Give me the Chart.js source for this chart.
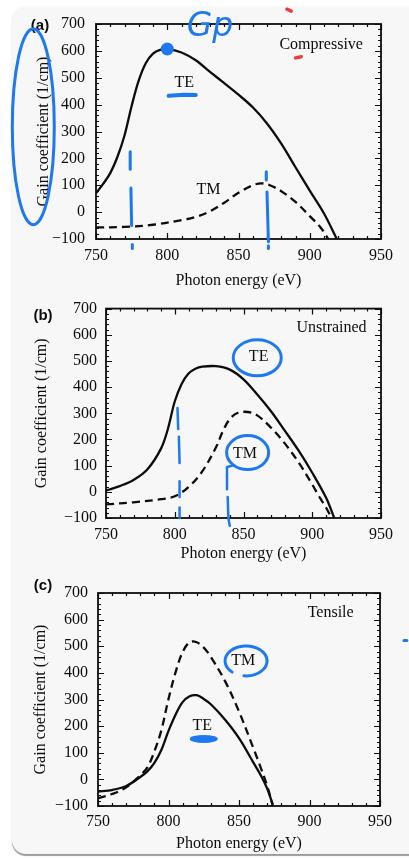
<!DOCTYPE html>
<html>
<head>
<meta charset="utf-8">
<script src="https://cdn.jsdelivr.net/npm/chart.js@4.4.1/dist/chart.umd.min.js"></script>
<style>
  html, body { margin: 0; padding: 0; background: #fff; }
  body { width: 409px; height: 859px; position: relative; overflow: hidden; }
  .card { position: absolute; left: 12px; top: 6px; width: 420px; height: 848px;
          background: #f7f7f7; border-radius: 14px; box-shadow: 0 2px 1px #9c9c9c; }
  .panel { position: absolute; left: 0; width: 409px; }
</style>
</head>
<body>
<div class="card"></div>
<div class="panel" style="top:0;height:290px"><canvas id="chartA" width="409" height="290"></canvas></div>
<div class="panel" style="top:290px;height:280px"><canvas id="chartB" width="409" height="280"></canvas></div>
<div class="panel" style="top:570px;height:289px"><canvas id="chartC" width="409" height="289"></canvas></div>
<script>
// axis ranges
const energyRange = [750, 950];
const gainRange = [-100, 700];

// (a) Compressive
const compTE_E = [750, 755, 760, 765, 770, 775, 780, 785, 790, 795, 800, 810, 820, 830, 840, 850, 860, 870, 880, 890, 900, 910, 919];
const compTE   = [70, 105, 145, 205, 285, 395, 490, 555, 590, 604, 607, 594, 565, 522, 480, 437, 390, 330, 255, 167, 80, -5, -100];
const compTM_E = [750, 770, 790, 810, 820, 830, 840, 850, 860, 866, 872, 880, 890, 900, 908, 913];
const compTM   = [-57, -55, -47, -30, -18, 3, 35, 72, 100, 107, 100, 78, 38, -15, -60, -100];

// (b) Unstrained
const unsTE_E = [750, 760, 770, 780, 790, 795, 800, 805, 810, 815, 820, 830, 840, 850, 860, 870, 880, 890, 900, 910, 916];
const unsTE   = [5, 22, 45, 85, 165, 240, 345, 412, 452, 470, 478, 480, 467, 430, 372, 308, 234, 158, 73, -22, -100];
const unsTM_E = [750, 770, 790, 800, 810, 820, 830, 835, 840, 846, 853, 860, 870, 880, 890, 900, 905, 910, 914];
const unsTM   = [-48, -40, -28, -17, 18, 78, 170, 232, 278, 302, 305, 292, 245, 185, 113, 28, -18, -60, -100];

// (c) Tensile
const tenTE_E = [750, 760, 770, 780, 785, 790, 795, 800, 805, 810, 815, 820, 825, 830, 840, 850, 860, 866, 870, 874];
const tenTE   = [-46, -40, -25, 9, 30, 62, 111, 182, 243, 290, 312, 316, 302, 282, 225, 155, 65, 10, -35, -95];
const tenTM_E = [750, 760, 770, 780, 785, 790, 795, 800, 805, 810, 815, 820, 825, 830, 840, 850, 860, 865, 870, 874];
const tenTM   = [-71, -55, -30, 15, 45, 105, 186, 302, 402, 478, 515, 515, 495, 460, 370, 255, 120, 50, -25, -100];

// printed text, in data coordinates
const labelsA = [{ text: 'TE', x: 812, y: 482 }, { text: 'TM', x: 829, y: 82 }, { text: 'Compressive', x: 908, y: 624 }];
const labelsB = [{ text: 'TE', x: 861, y: 515 }, { text: 'TM', x: 851, y: 146 }, { text: 'Unstrained', x: 914, y: 625 }];
const labelsC = [{ text: 'TM', x: 853, y: 446 }, { text: 'TE', x: 824, y: 200 }, { text: 'Tensile', x: 915, y: 626 }];

// hand-drawn pen marks on the scan (data coords, radii in px)
const penA = [
  { type: 'dot', x: 800, y: 607, r: 6.5 },
  { type: 'text', text: 'Gp', x: 830, y: 689, size: 33 },
  { type: 'line', pts: [[801, 433], [812, 437], [820, 436]], w: 4 },
  { type: 'ellipse', x: 706, y: 318, rx: 21, ry: 98, w: 3 },
  { type: 'line', pts: [[774, 225], [774, 160]], w: 3 },
  { type: 'line', pts: [[774.5, 90], [775, -50]], w: 3 },
  { type: 'line', pts: [[775.5, -120], [775.5, -135]], w: 3 },
  { type: 'line', pts: [[869.5, 150], [869.5, 120]], w: 3 },
  { type: 'line', pts: [[870, 75], [871, -110]], w: 3 },
  { type: 'line', pts: [[871, -125], [871, -135]], w: 3 },
  { type: 'line', pts: [[884, 755], [887, 748]], w: 3.5, color: '#ee3b3b' },
  { type: 'line', pts: [[890, 574], [894, 578]], w: 3.5, color: '#ee3b3b' }
];
const penB = [
  { type: 'ellipse', x: 860, y: 512, rx: 24, ry: 18, w: 3 },
  { type: 'ellipse', x: 853, y: 150, rx: 21, ry: 17, w: 3 },
  { type: 'line', pts: [[802, 320], [802.5, 240]], w: 2.5 },
  { type: 'line', pts: [[803, 210], [803.5, 110]], w: 2.5 },
  { type: 'line', pts: [[803.5, 40], [803.5, -20]], w: 2.5 },
  { type: 'line', pts: [[803.5, -60], [803.5, -100]], w: 2.5 },
  { type: 'line', pts: [[842, 100], [838, 95], [838, 10]], w: 2.5 },
  { type: 'line', pts: [[838.5, -20], [839, -100], [840, -130]], w: 2.5 }
];
const penC = [
  { type: 'arc', x: 855, y: 445, rx: 21, ry: 15, w: 3, a0: 2.3, a1: 2.3 + Math.PI * 1.8 },
  { type: 'blob', x: 825, y: 152, rx: 14, ry: 4 },
  { type: 'line', pts: [[967, 522], [969, 522]], w: 3 }
];

const serif = '"Liberation Serif", "DejaVu Serif", serif';
const ink = '#0d0d0d';
const pen = '#1e78f0';

function pts(xs, ys) { return xs.map((x, i) => ({ x: x, y: ys[i] })); }

/* frame with inward ticks, printed labels, panel letter, pen marks */
const framePlugin = {
  id: 'frame',
  afterDraw(chart, args, opts) {
    const { ctx, chartArea: a, scales: { x, y } } = chart;
    const X = v => x.getPixelForValue(v), Y = v => y.getPixelForValue(v);
    ctx.save();
    ctx.strokeStyle = ink;
    ctx.lineWidth = 1.2;
    ctx.beginPath();
    for (let e = energyRange[0]; e <= energyRange[1]; e += 10) {
      const px = Math.round(X(e)) + 0.5;
      const len = e % 50 === 0 ? 6 : 3;
      ctx.moveTo(px, a.bottom); ctx.lineTo(px, a.bottom - len);
      ctx.moveTo(px, a.top); ctx.lineTo(px, a.top + len);
    }
    for (let g = gainRange[0]; g <= gainRange[1]; g += 20) {
      const py = Math.round(Y(g)) + 0.5;
      const len = g % 100 === 0 ? 6 : 3;
      ctx.moveTo(a.left, py); ctx.lineTo(a.left + len, py);
      ctx.moveTo(a.right, py); ctx.lineTo(a.right - len, py);
    }
    ctx.stroke();
    ctx.lineWidth = 1.8;
    ctx.strokeRect(a.left, a.top, a.width, a.height);

    ctx.fillStyle = ink;
    ctx.font = '16px ' + serif;
    ctx.textAlign = 'center';
    ctx.textBaseline = 'middle';
    opts.labels.forEach(l => ctx.fillText(l.text, X(l.x), Y(l.y)));

    ctx.font = 'bold 15px "Liberation Sans", Arial, sans-serif';
    ctx.fillText(opts.letter, a.left - opts.letterDx, a.top + opts.letterDy);

    // pen marks
    ctx.lineCap = 'round';
    ctx.lineJoin = 'round';
    opts.pen.forEach(m => {
      ctx.strokeStyle = m.color || pen;
      ctx.fillStyle = m.color || pen;
      ctx.lineWidth = m.w || 3;
      ctx.beginPath();
      if (m.type === 'dot') {
        ctx.arc(X(m.x), Y(m.y), m.r, 0, Math.PI * 2); ctx.fill();
      } else if (m.type === 'blob') {
        ctx.ellipse(X(m.x), Y(m.y), m.rx, m.ry, 0, 0, Math.PI * 2); ctx.fill();
      } else if (m.type === 'ellipse') {
        ctx.ellipse(X(m.x), Y(m.y), m.rx, m.ry, 0, 0, Math.PI * 2); ctx.stroke();
      } else if (m.type === 'arc') {
        ctx.ellipse(X(m.x), Y(m.y), m.rx, m.ry, 0, m.a0, m.a1); ctx.stroke();
      } else if (m.type === 'line') {
        m.pts.forEach((p, i) => i ? ctx.lineTo(X(p[0]), Y(p[1])) : ctx.moveTo(X(p[0]), Y(p[1])));
        ctx.stroke();
      } else if (m.type === 'text') {
        ctx.font = 'italic ' + m.size + 'px "DejaVu Sans", sans-serif';
        ctx.fillText(m.text, X(m.x), Y(m.y));
      }
    });
    ctx.restore();
  }
};

function makeChart(id, te, tm, o) {
  return new Chart(document.getElementById(id), {
    type: 'line',
    data: {
      datasets: [
        { label: 'TE', data: te, borderColor: ink, borderWidth: 2.3, pointRadius: 0,
          tension: 0.35, fill: false },
        { label: 'TM', data: tm, borderColor: ink, borderWidth: 2.3, pointRadius: 0,
          borderDash: [8, 5], tension: 0.35, fill: false }
      ]
    },
    options: {
      responsive: false,
      animation: false,
      layout: { padding: { top: o.top, right: o.right, left: 0, bottom: 0 } },
      plugins: {
        legend: { display: false },
        tooltip: { enabled: false },
        frame: { labels: o.labels, pen: o.pen, letter: o.letter, letterDx: o.letterDx, letterDy: o.letterDy }
      },
      scales: {
        x: {
          type: 'linear', min: energyRange[0], max: energyRange[1],
          grid: { display: false, drawTicks: false, tickLength: 0 },
          border: { display: false },
          ticks: { stepSize: 50, color: ink, padding: o.xPad, font: { family: serif, size: 16 } },
          title: { display: true, text: 'Photon energy (eV)', color: ink,
                   font: { family: serif, size: 16 }, padding: { top: 0, bottom: o.xTitlePad } },
          afterFit: s => { s.height = o.xHeight; }
        },
        y: {
          type: 'linear', min: gainRange[0], max: gainRange[1],
          grid: { display: false, drawTicks: false, tickLength: 0 },
          border: { display: false },
          ticks: { stepSize: 100, color: ink, padding: o.yPad, font: { family: serif, size: 16 },
                   callback: v => (v < 0 ? '\u2212' + Math.abs(v) : String(v)) },
          title: { display: true, text: 'Gain coefficient (1/cm)', color: ink,
                   font: { family: serif, size: 16 }, padding: { top: o.yTitlePad, bottom: 0 } },
          afterFit: s => { s.width = o.yWidth; }
        }
      }
    },
    plugins: [framePlugin]
  });
}

makeChart('chartA', pts(compTE_E, compTE), pts(compTM_E, compTM), {
  top: 24, right: 28, xHeight: 51, yWidth: 96, xPad: 7, yPad: 11, xTitlePad: 0, yTitlePad: 34,
  labels: labelsA, pen: penA, letter: '(a)', letterDx: 56, letterDy: 2
});
makeChart('chartB', pts(unsTE_E, unsTE), pts(unsTM_E, unsTM), {
  top: 18, right: 28, xHeight: 52, yWidth: 106, xPad: 7, yPad: 9, xTitlePad: 7, yTitlePad: 32,
  labels: labelsB, pen: penB, letter: '(b)', letterDx: 63, letterDy: 7
});
makeChart('chartC', pts(tenTE_E, tenTE), pts(tenTM_E, tenTM), {
  top: 23, right: 29, xHeight: 53, yWidth: 98, xPad: 6, yPad: 10, xTitlePad: 6, yTitlePad: 31,
  labels: labelsC, pen: penC, letter: '(c)', letterDx: 55, letterDy: -7
});
</script>
</body>
</html>
